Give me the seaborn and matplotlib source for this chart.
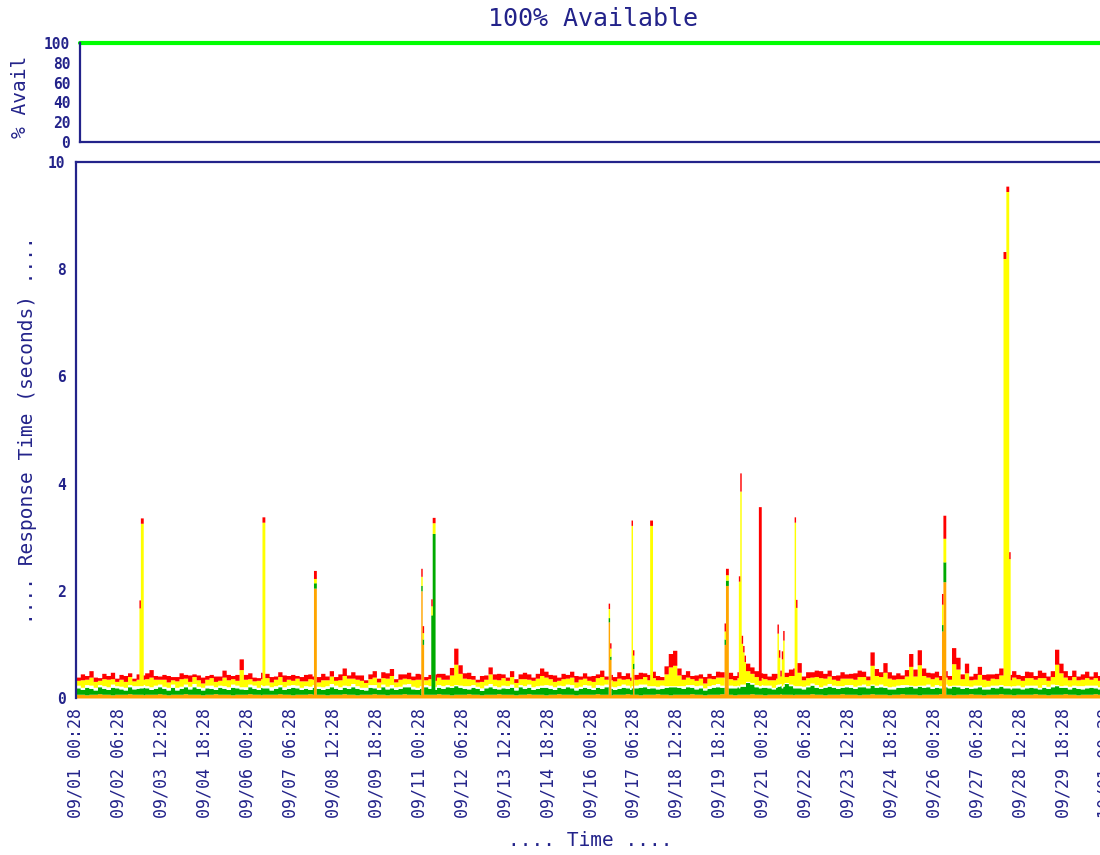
import numpy as np
import pandas as pd
import matplotlib
matplotlib.use("Agg")
import matplotlib.pyplot as plt
import seaborn as sns

# availability, one value per day (percent)
AVAIL_HOUR = [0, 24, 48, 72, 96, 120, 144, 168, 192, 216, 240, 264, 288, 312, 336, 360,
              384, 408, 432, 456, 480, 504, 528, 552, 576, 600, 624, 648, 672, 696, 720]
AVAIL_PCT = [100, 100, 100, 100, 100, 100, 100, 100, 100, 100, 100, 100, 100, 100, 100, 100,
             100, 100, 100, 100, 100, 100, 100, 100, 100, 100, 100, 100, 100, 100, 100]

# response time components, 3-hour samples, hundredths of a second
ORANGE_BASE = [
    7, 7, 6, 7, 7, 8, 7, 7, 6, 7, 7, 7, 8, 7, 7, 6, 7, 7, 7, 8,
    7, 6, 7, 7, 7, 8, 7, 7, 7, 6, 7, 7, 8, 7, 7, 7, 6, 7, 7, 7,
    8, 7, 7, 6, 7, 7, 7, 8, 7, 7, 6, 7, 7, 7, 8, 7, 7, 7, 6, 7,
    7, 7, 8, 7, 7, 6, 7, 7, 7, 8, 7, 7, 6, 7, 7, 7, 8, 7, 7, 7,
    6, 7, 7, 7, 8, 7, 7, 6, 7, 7, 7, 8, 7, 7, 6, 7, 7, 7, 8, 7,
    7, 7, 6, 7, 7, 8, 7, 7, 7, 6, 7, 7, 8, 7, 7, 7, 6, 7, 7, 7,
    7, 8, 7, 7, 6, 7, 7, 7, 8, 7, 7, 6, 7, 7, 7, 8, 7, 7, 6, 7,
    7, 7, 7, 8, 7, 7, 6, 7, 7, 7, 8, 7, 7, 6, 7, 7, 7, 8, 7, 7,
    6, 7, 7, 7, 8, 7, 7, 6, 7, 7, 7, 8, 7, 7, 6, 7, 7, 7, 8, 7,
    7, 7, 6, 7, 7, 8, 7, 7, 7, 6, 7, 7, 8, 7, 7, 7, 6, 7, 7, 7,
    7, 8, 7, 7, 6, 7, 7, 7, 8, 7, 7, 6, 7, 7, 7, 8, 7, 7, 6, 7,
    7, 7, 7, 8, 7, 7, 6, 7, 7, 7, 8, 7, 7, 6, 7, 7, 7, 8, 7, 7,
]
GREEN_BASE = [
    12, 9, 14, 11, 8, 13, 11, 9, 14, 12, 10, 8, 13, 10, 11, 14, 12, 9, 11, 13,
    11, 9, 13, 8, 11, 13, 10, 14, 11, 9, 12, 11, 8, 13, 11, 9, 14, 12, 10, 9,
    13, 11, 9, 14, 12, 8, 11, 13, 9, 11, 14, 12, 9, 11, 8, 13, 11, 9, 12, 14,
    11, 9, 12, 11, 14, 12, 9, 8, 13, 11, 9, 14, 11, 12, 9, 11, 13, 14, 10, 9,
    12, 14, 11, 9, 12, 11, 14, 14, 16, 13, 11, 9, 13, 11, 8, 12, 14, 11, 9, 12,
    11, 13, 9, 14, 11, 12, 9, 11, 13, 14, 11, 9, 12, 11, 14, 12, 9, 11, 13, 11,
    9, 12, 11, 14, 12, 9, 11, 13, 11, 9, 12, 14, 14, 11, 12, 9, 11, 13, 15, 14,
    13, 11, 14, 12, 10, 12, 9, 11, 13, 14, 12, 10, 12, 13, 14, 16, 22, 18, 14, 13,
    14, 12, 10, 13, 15, 20, 16, 13, 12, 10, 14, 16, 13, 11, 14, 15, 13, 11, 12, 14,
    13, 11, 15, 14, 12, 16, 13, 14, 13, 11, 10, 13, 12, 14, 15, 12, 16, 13, 14, 11,
    13, 11, 14, 12, 16, 14, 11, 13, 10, 12, 14, 11, 10, 13, 12, 14, 11, 10, 13, 12,
    10, 12, 13, 11, 10, 13, 12, 14, 16, 13, 12, 10, 13, 12, 10, 12, 13, 11, 10, 12,
]
WHITE_BASE = [
    5, 4, 5, 6, 5, 4, 5, 5, 6, 4, 5, 5, 4, 6, 5, 5, 4, 5, 6, 5,
    4, 5, 6, 5, 4, 5, 5, 6, 4, 5, 5, 6, 5, 4, 5, 5, 6, 5, 4, 5,
    5, 6, 4, 5, 5, 6, 5, 4, 5, 6, 5, 5, 4, 5, 6, 5, 4, 5, 5, 6,
    6, 5, 4, 5, 6, 5, 4, 5, 5, 6, 4, 5, 5, 6, 5, 4, 5, 6, 5, 4,
    5, 4, 5, 6, 5, 5, 4, 3, 2, 4, 5, 6, 5, 4, 5, 5, 6, 5, 4, 5,
    5, 6, 5, 4, 5, 6, 5, 5, 4, 5, 6, 5, 4, 5, 5, 6, 5, 4, 5, 6,
    4, 5, 6, 5, 4, 5, 5, 6, 5, 4, 5, 6, 5, 5, 4, 5, 6, 3, 2, 2,
    3, 5, 4, 5, 6, 5, 4, 5, 5, 6, 4, 5, 5, 4, 3, 3, 2, 3, 4, 5,
    4, 5, 3, 5, 4, 2, 3, 5, 4, 5, 3, 4, 5, 3, 4, 5, 4, 5, 3, 4,
    5, 4, 3, 5, 4, 2, 4, 5, 3, 4, 5, 4, 5, 4, 2, 4, 2, 4, 5, 4,
    5, 4, 5, 4, 2, 3, 5, 3, 4, 5, 3, 4, 5, 4, 5, 3, 4, 5, 4, 5,
    4, 5, 4, 5, 3, 5, 4, 5, 2, 3, 4, 5, 4, 5, 6, 5, 4, 5, 4, 5,
]
YELLOW_BASE = [
    9, 14, 10, 15, 11, 8, 13, 14, 10, 8, 13, 11, 15, 9, 12, 10, 13, 18, 11, 9,
    13, 10, 8, 12, 14, 11, 9, 13, 12, 8, 11, 14, 10, 9, 16, 13, 10, 9, 32, 14,
    10, 8, 13, 11, 14, 9, 12, 15, 10, 11, 8, 13, 12, 9, 14, 10, 8, 13, 11, 14,
    9, 13, 18, 14, 10, 12, 13, 9, 11, 14, 10, 12, 15, 17, 9, 13, 11, 9, 12, 15,
    12, 9, 13, 11, 14, 12, 10, 20, 38, 22, 14, 13, 10, 8, 12, 11, 18, 12, 13, 14,
    10, 14, 9, 11, 13, 9, 12, 14, 18, 14, 12, 10, 9, 13, 11, 14, 10, 13, 12, 9,
    11, 13, 16, 9, 12, 11, 14, 9, 12, 13, 11, 10, 14, 11, 15, 12, 10, 22, 35, 38,
    20, 12, 14, 11, 10, 13, 9, 14, 11, 12, 15, 10, 12, 11, 14, 18, 20, 17, 15, 13,
    12, 10, 14, 12, 14, 11, 16, 18, 25, 12, 14, 11, 15, 17, 13, 14, 11, 10, 14, 12,
    12, 13, 16, 14, 11, 35, 18, 14, 25, 16, 13, 12, 11, 16, 35, 18, 38, 18, 13, 14,
    14, 11, 13, 12, 40, 30, 13, 24, 12, 11, 20, 14, 11, 13, 12, 18, 11, 12, 16, 12,
    12, 14, 14, 11, 18, 13, 11, 14, 38, 24, 15, 12, 16, 11, 12, 14, 11, 14, 12, 10,
]
RED_BASE = [
    6, 11, 7, 12, 8, 5, 10, 7, 12, 6, 9, 11, 7, 5, 10, 8, 11, 14, 7, 6,
    9, 12, 6, 8, 11, 7, 12, 5, 9, 11, 7, 6, 10, 8, 13, 10, 6, 11, 20, 9,
    11, 7, 5, 12, 8, 10, 6, 9, 12, 7, 11, 5, 8, 12, 9, 6, 10, 12, 7, 10,
    7, 11, 14, 6, 12, 8, 10, 5, 9, 12, 7, 11, 10, 13, 6, 10, 8, 12, 7, 11,
    10, 6, 8, 12, 7, 11, 8, 14, 30, 16, 10, 12, 7, 5, 11, 8, 13, 10, 12, 7,
    6, 11, 7, 9, 12, 10, 6, 9, 14, 11, 8, 12, 6, 10, 7, 11, 12, 6, 10, 8,
    11, 7, 12, 6, 10, 8, 12, 7, 11, 6, 9, 12, 7, 10, 12, 8, 6, 15, 25, 28,
    13, 9, 12, 6, 10, 8, 12, 9, 6, 11, 10, 7, 12, 8, 11, 13, 14, 12, 11, 9,
    10, 7, 12, 9, 11, 8, 12, 14, 18, 7, 11, 10, 12, 13, 9, 11, 7, 10, 12, 8,
    9, 12, 12, 10, 7, 25, 13, 9, 18, 12, 8, 11, 7, 12, 24, 13, 28, 14, 9, 11,
    11, 8, 12, 7, 30, 22, 9, 18, 7, 11, 15, 9, 12, 8, 10, 13, 7, 10, 12, 8,
    9, 12, 11, 7, 14, 10, 8, 11, 28, 18, 12, 8, 12, 7, 10, 12, 6, 11, 9, 7,
]

# spikes (seconds): start hour counted from 09/01 00:28 and how many hours each lasts
SPIKE_HOUR = [44, 45, 130, 166, 241, 242, 248, 249, 372, 373, 388, 389, 401, 453, 454, 463,
              464, 465, 466, 467, 477, 490, 491, 493, 494, 502, 503, 605, 606, 648, 650, 652]
SPIKE_SPAN = [1, 2, 2, 2, 1, 1, 1, 2, 1, 1, 1, 1, 2, 1, 2, 1,
              1, 1, 1, 1, 2, 1, 1, 1, 1, 1, 1, 1, 2, 2, 2, 1]
SPIKE_ORANGE = [0.07, 0.07, 0.07, 2.05, 2.00, 1.00, 0.07, 0.07, 1.42, 0.72, 0.07, 0.55, 0.07, 1.00, 2.10, 0.07,
                0.07, 0.07, 0.07, 0.07, 0.07, 0.07, 0.07, 0.07, 0.07, 0.07, 0.07, 1.25, 2.17, 0.07, 0.07, 0.07]
SPIKE_GREEN = [0.12, 0.12, 0.12, 0.10, 0.10, 0.10, 1.48, 3.00, 0.08, 0.06, 0.12, 0.10, 0.12, 0.10, 0.10, 0.12,
               0.15, 0.15, 0.15, 0.15, 0.12, 0.15, 0.15, 0.12, 0.15, 0.12, 0.12, 0.12, 0.37, 0.12, 0.12, 0.12]
SPIKE_WHITE = [0.04, 0.04, 0.04, 0.00, 0.00, 0.00, 0.00, 0.00, 0.00, 0.00, 0.04, 0.00, 0.04, 0.00, 0.00, 0.04,
               0.04, 0.04, 0.04, 0.04, 0.04, 0.04, 0.04, 0.04, 0.04, 0.04, 0.04, 0.00, 0.00, 0.04, 0.04, 0.04]
SPIKE_YELLOW = [1.45, 3.03, 3.05, 0.08, 0.17, 0.12, 0.17, 0.20, 0.17, 0.15, 2.99, 0.15, 2.99, 0.15, 0.10, 1.95,
                3.60, 0.76, 0.60, 0.42, 0.10, 0.95, 0.50, 0.50, 0.82, 3.05, 1.46, 0.38, 0.44, 7.97, 9.22, 2.37]
SPIKE_RED = [0.15, 0.10, 0.10, 0.15, 0.15, 0.13, 0.13, 0.10, 0.10, 0.10, 0.10, 0.10, 0.10, 0.15, 0.12, 0.10,
             0.34, 0.15, 0.12, 0.12, 3.24, 0.17, 0.14, 0.15, 0.18, 0.10, 0.15, 0.20, 0.43, 0.13, 0.10, 0.13]

TICK_LABELS = ["09/01 00:28", "09/02 06:28", "09/03 12:28", "09/04 18:28", "09/06 00:28",
               "09/07 06:28", "09/08 12:28", "09/09 18:28", "09/11 00:28", "09/12 06:28",
               "09/13 12:28", "09/14 18:28", "09/16 00:28", "09/17 06:28", "09/18 12:28",
               "09/19 18:28", "09/21 00:28", "09/22 06:28", "09/23 12:28", "09/24 18:28",
               "09/26 00:28", "09/27 06:28", "09/28 12:28", "09/29 18:28", "10/01 00:28"]
TICK_STEP_HOURS = 30

NAVY = "#23238a"
LAYER_COLORS = {"red": "#ff0000", "yellow": "#ffff00", "white": "#ffffff",
                "green": "#00aa00", "orange": "#ffa500"}
STACK_TOP_DOWN = ["red", "yellow", "white", "green", "orange"]


def build_layers():
    n_hours = len(ORANGE_BASE) * 3
    df = pd.DataFrame({"hour": np.arange(n_hours) + 0.5})
    sources = {"orange": (ORANGE_BASE, SPIKE_ORANGE), "green": (GREEN_BASE, SPIKE_GREEN),
               "white": (WHITE_BASE, SPIKE_WHITE), "yellow": (YELLOW_BASE, SPIKE_YELLOW),
               "red": (RED_BASE, SPIKE_RED)}
    for name, (base, spike) in sources.items():
        vals = np.repeat(np.array(base, dtype=float) / 100.0, 3)
        for h, span, v in zip(SPIKE_HOUR, SPIKE_SPAN, spike):
            vals[h:h + span] = v
        df[name] = vals
    return df.melt(id_vars="hour", var_name="layer", value_name="seconds"), n_hours


def plot_response(ax, long_df, n_hours):
    sns.histplot(data=long_df, x="hour", weights="seconds", hue="layer",
                 hue_order=STACK_TOP_DOWN, palette=LAYER_COLORS, multiple="stack",
                 binwidth=1, binrange=(0, n_hours), element="step", alpha=1,
                 linewidth=0, antialiased=False, legend=False, ax=ax)
    ax.set_xlim(0, n_hours)
    ax.set_ylim(0, 10)
    ax.set_yticks([0, 2, 4, 6, 8, 10])
    ax.set_xticks(np.arange(len(TICK_LABELS)) * TICK_STEP_HOURS)
    ax.set_xticklabels(TICK_LABELS, rotation=90)
    ax.set_xlabel("")
    ax.set_ylabel("")
    for side in ["right", "bottom"]:
        ax.spines[side].set_visible(False)
    for side in ["left", "top"]:
        ax.spines[side].set_color(NAVY)
        ax.spines[side].set_linewidth(1.6)
    ax.tick_params(axis="y", direction="in", length=6.5, width=1.3, color=NAVY,
                   labelcolor=NAVY, labelsize=10.5, pad=7.5)
    ax.tick_params(axis="x", length=0, labelcolor=NAVY, labelsize=12, pad=7)
    for lbl in ax.get_yticklabels():
        lbl.set_fontweight("bold")


def plot_avail(ax, n_hours):
    sns.lineplot(x=AVAIL_HOUR, y=AVAIL_PCT, color="#00ff00", linewidth=3, clip_on=False,
                 ax=ax)
    ax.set_xlim(0, n_hours)
    ax.set_ylim(0, 100)
    ax.set_yticks([0, 20, 40, 60, 80, 100])
    ax.set_xticks([])
    for side in ["right", "top"]:
        ax.spines[side].set_visible(False)
    for side in ["left", "bottom"]:
        ax.spines[side].set_color(NAVY)
        ax.spines[side].set_linewidth(1.6)
    ax.tick_params(axis="y", direction="in", length=6.5, width=1.3, color=NAVY,
                   labelcolor=NAVY, labelsize=10.5, pad=7)
    for lbl in ax.get_yticklabels():
        lbl.set_fontweight("bold")


if __name__ == "__main__":
    sns.set_style("white")
    plt.rcParams["font.family"] = ["DejaVu Sans Mono"]

    long_df, n_hours = build_layers()

    fig = plt.figure(figsize=(11, 8.55), dpi=100)
    ax_main = fig.add_axes([76 / 1100, 157 / 855, 1030 / 1100, 536 / 855])
    ax_top = fig.add_axes([80 / 1100, 713 / 855, 1026 / 1100, 99 / 855])

    plot_response(ax_main, long_df, n_hours)
    plot_avail(ax_top, n_hours)

    fig.text(593 / 1100, 1 - 19 / 855, "100% Available", color=NAVY, fontsize=18,
             ha="center", va="center")
    fig.text(20 / 1100, 1 - 97 / 855, "% Avail", color=NAVY, fontsize=14,
             rotation=90, ha="center", va="center")
    fig.text(28 / 1100, 1 - 430 / 855, ".... Response Time (seconds) ....", color=NAVY,
             fontsize=14, rotation=90, ha="center", va="center")
    fig.text(590 / 1100, 1 - 840 / 855, ".... Time ....", color=NAVY, fontsize=14,
             ha="center", va="center")

    fig.savefig("out.png", dpi=100)
